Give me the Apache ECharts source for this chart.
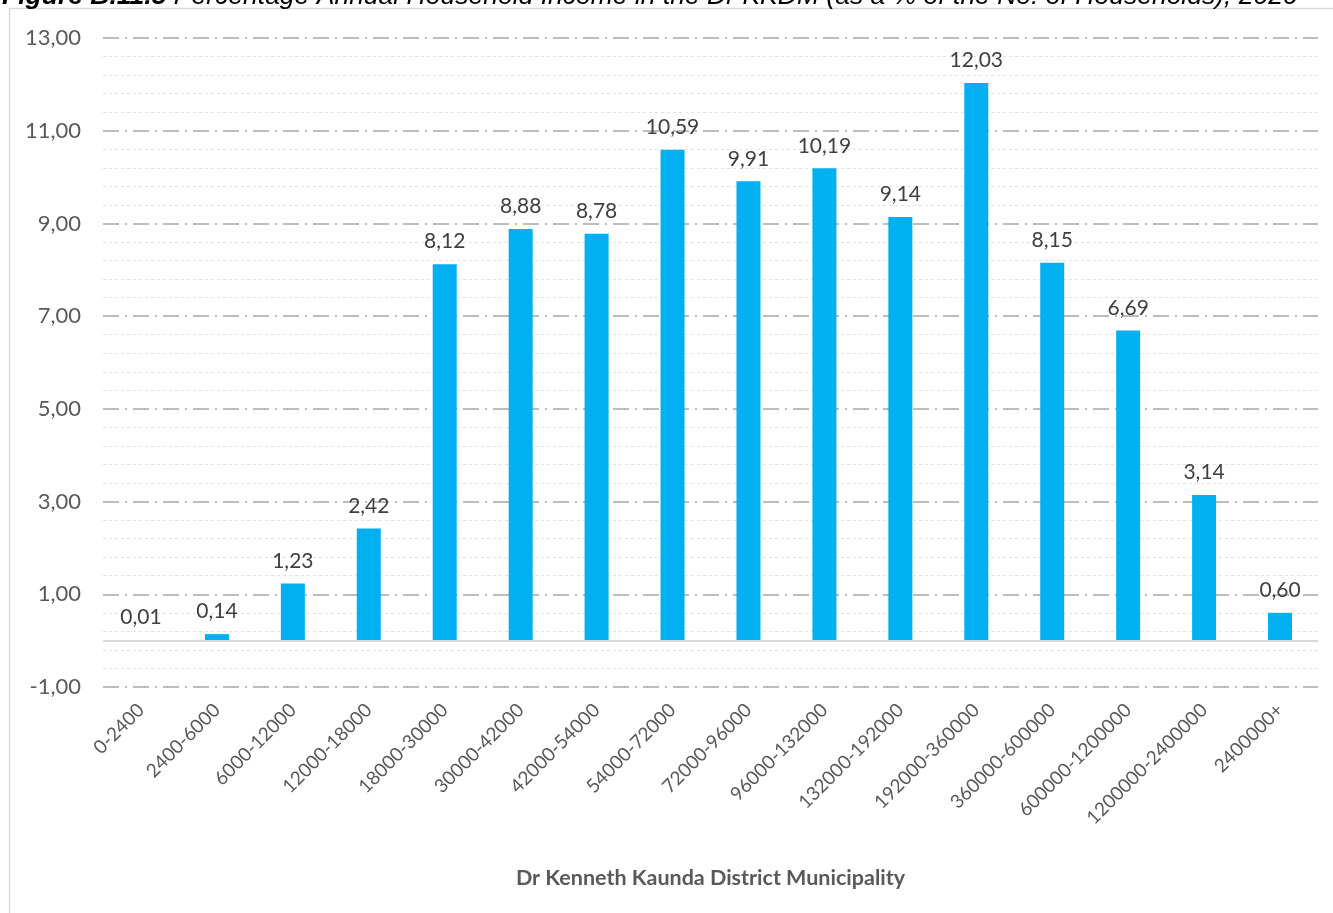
<!DOCTYPE html>
<html>
<head>
<meta charset="utf-8">
<script src="https://cdn.jsdelivr.net/npm/echarts@6/dist/echarts.min.js"></script>
<style>html,body{margin:0;padding:0;background:#fff;}#c{width:1333px;height:913px;}</style>
</head>
<body>
<div id="c"></div>
<script>
var categories = ['0-2400','2400-6000','6000-12000','12000-18000','18000-30000','30000-42000','42000-54000','54000-72000','72000-96000','96000-132000','132000-192000','192000-360000','360000-600000','600000-1200000','1200000-2400000','2400000+'];
var values = [0.01,0.14,1.23,2.42,8.12,8.88,8.78,10.59,9.91,10.19,9.14,12.03,8.15,6.69,3.14,0.60];
var axisName = 'Dr Kenneth Kaunda District Municipality';
var titleText = 'Percentage Annual Household Income in the Dr KKDM (as a % of the No. of Households), 2020';
var titlePrefix = 'Figure B.11.5 ';

var fmt = function(v){ return Number(v).toFixed(2).replace('.', ','); };
var chart = echarts.init(document.getElementById('c'), null, {renderer:'canvas'});
chart.setOption({
  animation: false,
  backgroundColor: '#fff',
  graphic: [
    {type:'rect', shape:{x:9.5,y:8.5,width:1400,height:1000}, style:{fill:'none',stroke:'#d9d9d9',lineWidth:1.5}, z:-10},
    {type:'text', x:2, y:-3, z:10, style:{
      text:'{b|' + titlePrefix + '}{i|' + titleText + '}',
      verticalAlign:'middle',
      rich:{
        b:{fontFamily:'Liberation Sans', fontStyle:'italic', fontWeight:'bold', fontSize:26.5, fill:'#000'},
        i:{fontFamily:'Liberation Sans', fontStyle:'italic', fontSize:26.5, fill:'#000'}
      }
    }}
  ],
  grid: {left:103, right:15, top:38, bottom:226, containLabel:false},
  xAxis: {
    type:'category', data: categories,
    axisLine:{show:false, onZero:false},
    axisTick:{show:false},
    axisLabel:{rotate:45, interval:0, margin:20, color:'#595959', fontFamily:'Lato', fontSize:19},
    name: axisName, nameLocation:'middle', nameGap:180,
    nameTextStyle:{fontFamily:'Lato', fontWeight:'bold', fontSize:21.5, color:'#595959'}
  },
  yAxis: {
    type:'value', min:-1, max:13, interval:2,
    axisLine:{show:false}, axisTick:{show:false},
    axisLabel:{formatter: fmt, color:'#595959', fontFamily:'Lato', fontSize:22, margin:22},
    splitLine:{show:true, lineStyle:{color:'#a6a6a6', width:1.5, type:[16,6,2,6]}},
    minorTick:{show:false, splitNumber:5},
    minorSplitLine:{show:true, lineStyle:{color:'#e3e3e3', width:1, type:[3,3]}}
  },
  series: [{
    type:'bar', data: values, barWidth:24,
    itemStyle:{color:'#00b0f0'},
    label:{show:true, position:'top', distance:12, formatter:function(p){return fmt(p.value);}, color:'#404040', fontFamily:'Lato', fontSize:21},
    markLine:{silent:true, symbol:['none','none'], label:{show:false}, lineStyle:{color:'#d9d9d9', width:2, type:'solid'}, data:[{yAxis:0}]}
  }]
});
</script>
</body>
</html>
